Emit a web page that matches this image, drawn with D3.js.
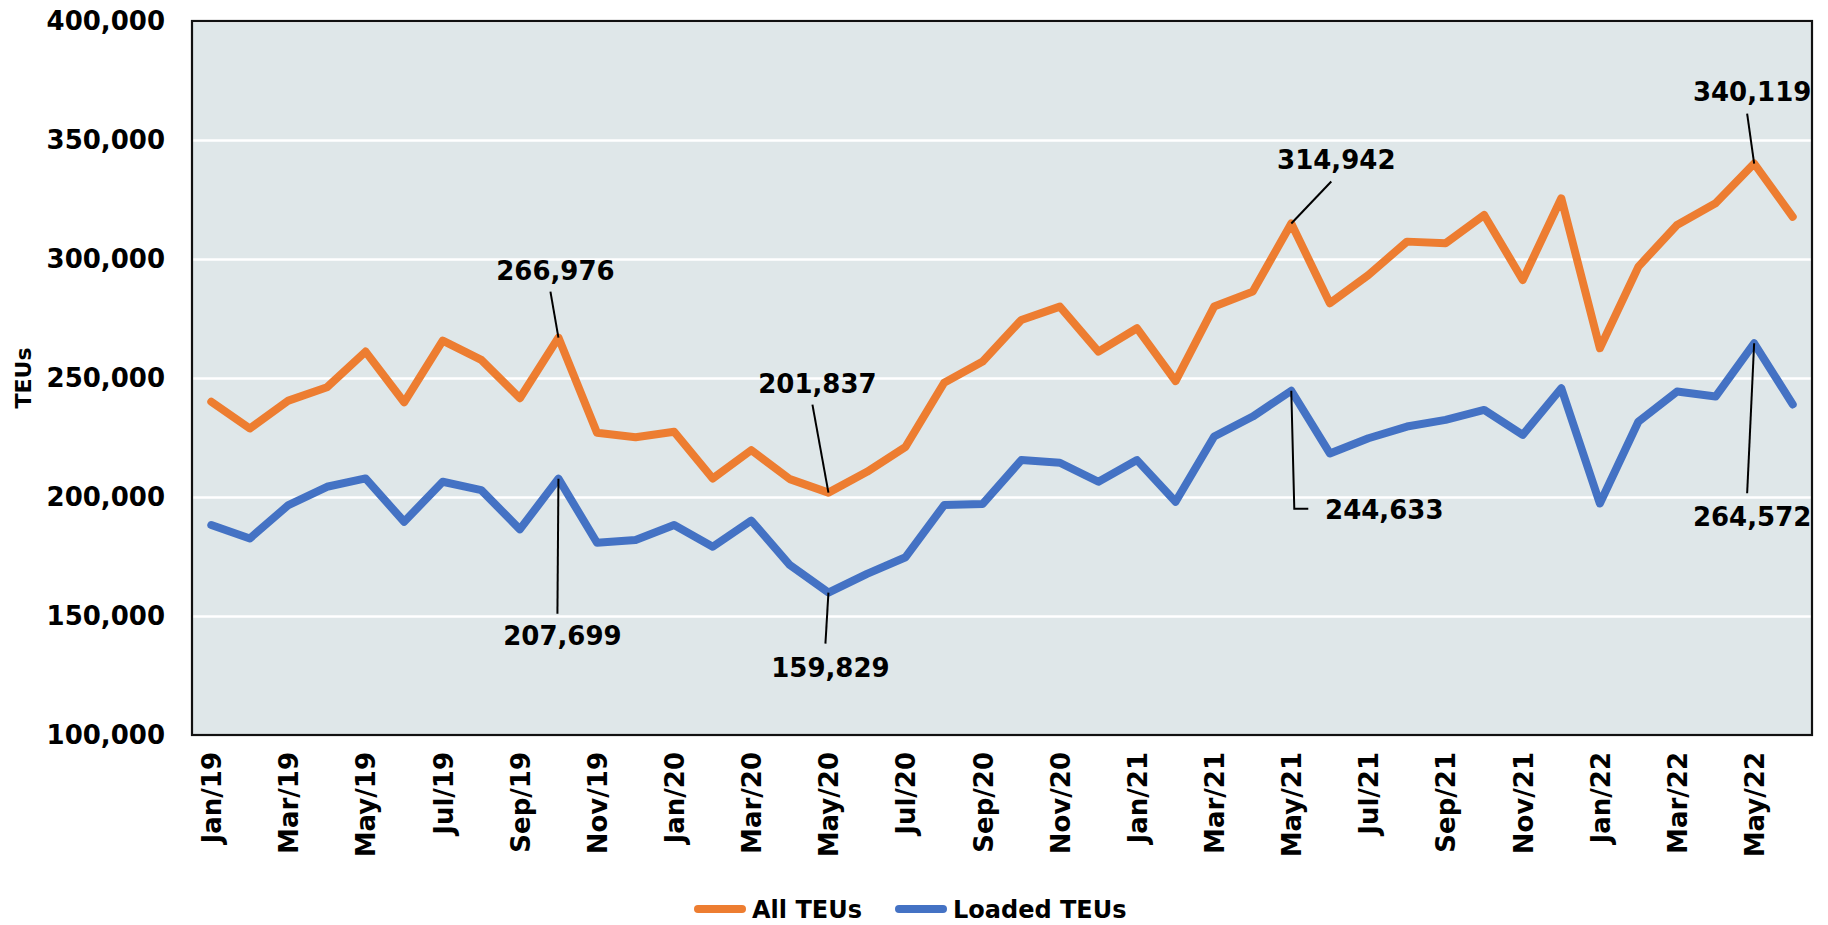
<!DOCTYPE html>
<html>
<head>
<meta charset="utf-8">
<script src="https://cdn.jsdelivr.net/npm/d3@7"></script>
<style>
  html, body { margin: 0; padding: 0; background: #fff; }
  svg { display: block; font-family: "DejaVu Sans", sans-serif; font-weight: bold; }
</style>
</head>
<body>
<div id="chart"></div>
<script>
const months = [
  'Jan/19', 'Feb/19', 'Mar/19', 'Apr/19', 'May/19', 'Jun/19', 'Jul/19', 'Aug/19', 'Sep/19', 'Oct/19', 'Nov/19', 'Dec/19',
  'Jan/20', 'Feb/20', 'Mar/20', 'Apr/20', 'May/20', 'Jun/20', 'Jul/20', 'Aug/20', 'Sep/20', 'Oct/20', 'Nov/20', 'Dec/20',
  'Jan/21', 'Feb/21', 'Mar/21', 'Apr/21', 'May/21', 'Jun/21', 'Jul/21', 'Aug/21', 'Sep/21', 'Oct/21', 'Nov/21', 'Dec/21',
  'Jan/22', 'Feb/22', 'Mar/22', 'Apr/22', 'May/22', 'Jun/22'
];

const allTEUs = [
  240000, 228800, 240500, 246100, 261100, 239800, 265700, 257600, 241500, 266976, 227000, 225100,
  227400, 207800, 219700, 207500, 201837, 210600, 221100, 248000, 256900, 274400, 280000, 261100,
  270900, 248700, 280000, 286300, 314942, 281400, 293300, 307300, 306600, 318500, 291200, 325500,
  262500, 296800, 314300, 323400, 340119, 317700
];

const loadedTEUs = [
  188200, 182600, 196600, 204300, 207800, 189600, 206400, 202900, 186400, 207699, 180800, 181900,
  188200, 179100, 190100, 171400, 159829, 167700, 174700, 196600, 197100, 215500, 214400, 206400,
  215500, 198000, 225400, 233800, 244633, 218300, 224700, 229600, 232400, 236600, 226100, 245700,
  197300, 231700, 244300, 242200, 264572, 238900
];

const yTicks = [100000, 150000, 200000, 250000, 300000, 350000, 400000];
const xTickLabels = months.filter((m, i) => i % 2 === 0);

const seriesNames = ['All TEUs', 'Loaded TEUs'];
const seriesColors = ['#ed7d31', '#4472c4'];

// callouts: which series / month gets a value label
const callouts = [
  { series: 0, month: 'Oct/19' },
  { series: 0, month: 'May/20' },
  { series: 0, month: 'May/21' },
  { series: 0, month: 'May/22' },
  { series: 1, month: 'Oct/19' },
  { series: 1, month: 'May/20' },
  { series: 1, month: 'May/21' },
  { series: 1, month: 'May/22' }
];

// where each label sits relative to its point (text centre, leader start)
const calloutLayout = {
  '0:Oct/19': { tx: -3, ty: -67, lx: -8, ly: -46 },
  '0:May/20': { tx: -11, ty: -109, lx: -16, ly: -88 },
  '0:May/21': { tx: 45, ty: -64, lx: 40, ly: -42 },
  '0:May/22': { tx: -2, ty: -72, lx: -7, ly: -50 },
  '1:Oct/19': { tx: 4, ty: 157, lx: -1, ly: 135 },
  '1:May/20': { tx: 2, ty: 75, lx: -3, ly: 51 },
  '1:May/21': { tx: 93, ty: 119, elbow: true, ex: 3, ey: 118, lx: 17 },
  '1:May/22': { tx: -2, ty: 173, lx: -7, ly: 150 }
};

const W = 1828, H = 925;
const margin = { top: 21, right: 16, bottom: 190, left: 192 };
const width = W - margin.left - margin.right;
const height = H - margin.top - margin.bottom;

const svg = d3.select('#chart').append('svg')
  .attr('width', W)
  .attr('height', H)
  .attr('viewBox', [0, 0, W, H]);

const g = svg.append('g')
  .attr('transform', `translate(${margin.left},${margin.top})`);

const x = d3.scalePoint()
  .domain(months)
  .range([0, width])
  .padding(0.5);

const y = d3.scaleLinear()
  .domain([100000, 400000])
  .range([height, 0]);

g.append('rect')
  .attr('width', width)
  .attr('height', height)
  .attr('fill', '#dfe7e9');

// gridlines
g.append('g')
  .call(d3.axisLeft(y).tickValues(yTicks).tickSize(-width).tickFormat(''))
  .call(a => a.select('.domain').remove())
  .call(a => a.selectAll('line').attr('stroke', '#fff').attr('stroke-width', 2.5));

// y axis labels
g.append('g')
  .call(d3.axisLeft(y).tickValues(yTicks).tickSize(0).tickPadding(27).tickFormat(d3.format(',')))
  .call(a => a.select('.domain').remove())
  .call(a => a.selectAll('text')
    .attr('fill', '#000')
    .style('font-size', '26px')
    .style('font-family', '"DejaVu Sans", sans-serif')
    .style('font-weight', 'bold'));

// x axis labels
g.append('g')
  .attr('transform', `translate(0,${height})`)
  .call(d3.axisBottom(x).tickValues(xTickLabels).tickSize(0).tickFormat(d => d))
  .call(a => a.select('.domain').remove())
  .call(a => a.selectAll('text')
    .attr('fill', '#000')
    .attr('transform', 'rotate(-90)')
    .attr('text-anchor', 'end')
    .attr('x', -17)
    .attr('y', 0)
    .attr('dy', '0.36em')
    .style('font-size', '26px')
    .style('font-family', '"DejaVu Sans", sans-serif')
    .style('font-weight', 'bold'));

// plot border
g.append('rect')
  .attr('width', width)
  .attr('height', height)
  .attr('fill', 'none')
  .attr('stroke', '#111')
  .attr('stroke-width', 2.2);

const line = d3.line()
  .x((d, i) => x(months[i]))
  .y(d => y(d));

[allTEUs, loadedTEUs].forEach((values, s) => {
  g.append('path')
    .datum(values)
    .attr('fill', 'none')
    .attr('stroke', seriesColors[s])
    .attr('stroke-width', 8)
    .attr('stroke-linejoin', 'round')
    .attr('stroke-linecap', 'round')
    .attr('d', line);
});

// callouts
const seriesValues = [allTEUs, loadedTEUs];
callouts.forEach(c => {
  const i = months.indexOf(c.month);
  const v = seriesValues[c.series][i];
  const px = x(c.month), py = y(v);
  const lay = calloutLayout[`${c.series}:${c.month}`];

  if (lay.elbow) {
    g.append('path')
      .attr('fill', 'none')
      .attr('stroke', '#000')
      .attr('stroke-width', 2)
      .attr('d', `M${px},${py}L${px + lay.ex},${py + lay.ey}L${px + lay.lx},${py + lay.ey}`);
  } else {
    g.append('line')
      .attr('x1', px + lay.lx)
      .attr('y1', py + lay.ly)
      .attr('x2', px)
      .attr('y2', py)
      .attr('stroke', '#000')
      .attr('stroke-width', 2);
  }

  g.append('text')
    .attr('x', px + lay.tx)
    .attr('y', py + lay.ty)
    .attr('dy', '0.36em')
    .attr('text-anchor', 'middle')
    .attr('fill', '#000')
    .style('font-size', '26px')
    .text(d3.format(',')(v));
});

// y axis title
svg.append('text')
  .attr('transform', `translate(23,${margin.top + y(250000)}) rotate(-90)`)
  .attr('text-anchor', 'middle')
  .attr('dy', '0.36em')
  .style('font-size', '22px')
  .text('TEUs');

// legend
const legend = svg.append('g').attr('transform', 'translate(694,909)');
const legendX = [0, 201];
seriesNames.forEach((name, s) => {
  const item = legend.append('g').attr('transform', `translate(${legendX[s]},0)`);
  item.append('line')
    .attr('x1', 4).attr('x2', 48)
    .attr('stroke', seriesColors[s])
    .attr('stroke-width', 8)
    .attr('stroke-linecap', 'round');
  item.append('text')
    .attr('x', 58)
    .attr('dy', '0.36em')
    .style('font-size', '24px')
    .text(name);
});
</script>
</body>
</html>
